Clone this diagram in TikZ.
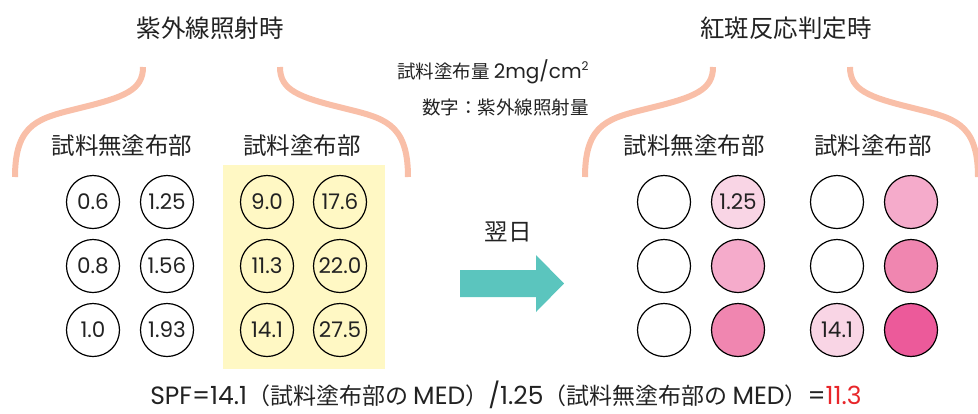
\documentclass[tikz,border=0pt]{standalone}
\usepackage{fontspec}
\setmainfont{Noto Sans CJK JP}
\newfontfamily\lat{Poppins}
\definecolor{bracec}{HTML}{F9BFA8}
\definecolor{yel}{HTML}{FFF8C4}
\definecolor{pk1}{HTML}{F9D5E5}
\definecolor{pk2}{HTML}{F5ABCB}
\definecolor{pk3}{HTML}{F086B0}
\definecolor{pk4}{HTML}{EC5A9A}
\definecolor{tealc}{HTML}{5BC5BE}
\definecolor{txt}{HTML}{222222}
\definecolor{redv}{HTML}{E8262A}
\newcommand{\fl}[1]{{\lat\fontsize{25}{25}\selectfont #1}}
\tikzset{
  dot/.style={circle,draw=black,line width=1.2pt,minimum size=53pt,inner sep=0pt,font=\lat\fontsize{21.5}{21.5}\selectfont,text=txt},
  title/.style={font=\fontsize{24.5}{24.5}\selectfont,text=txt,inner sep=0pt},
  grp/.style={font=\fontsize{23.5}{23.5}\selectfont,text=txt,inner sep=0pt},
  note/.style={font=\fontsize{18.5}{18.5}\selectfont,text=txt,inner sep=0pt},
  brace/.style={draw=bracec,line width=6pt},
}
\begin{document}
\begin{tikzpicture}[x=1pt,y=-1pt]
\useasboundingbox (0,0) rectangle (978,413);
% braces
\foreach \dx in {0,570}{
  \draw[brace] (15+\dx,177) .. controls (15+\dx,122) and (40+\dx,118) .. (80+\dx,108)
     .. controls (125+\dx,97) and (143+\dx,90) .. (143+\dx,67);
  \draw[brace] (408+\dx,177) .. controls (408+\dx,122) and (383+\dx,118) .. (343+\dx,108)
     .. controls (298+\dx,97) and (280+\dx,90) .. (280+\dx,67);
}
\node[title] (t1) at (210,28) {紫外線照射時};
\node[title] (t2) at (786,28) {紅斑反応判定時};
\node[note,anchor=west] (n1) at (397,72) {試料塗布量 {\lat\fontsize{20}{20}\selectfont 2mg/cm\raisebox{0.42em}{\fontsize{12}{12}\selectfont 2}}};
\node[note,anchor=east] (n2) at (589,107) {数字：紫外線照射量};
\node[grp] (g1) at (122,146) {試料無塗布部};
\node[grp] (g2) at (302,146) {試料塗布部};
\node[grp] (g3) at (694,146) {試料無塗布部};
\node[grp] (g4) at (873,146) {試料塗布部};
\fill[yel] (223,165) rectangle (385,369);
% left circles
\node[dot] (a11) at (93,202) {0.6};
\node[dot] (a12) at (167,202) {1.25};
\node[dot] (a21) at (93,266) {0.8};
\node[dot] (a22) at (167,266) {1.56};
\node[dot] (a31) at (93,330) {1.0};
\node[dot] (a32) at (167,330) {1.93};
\node[dot] (b11) at (267,202) {9.0};
\node[dot] (b12) at (340,202) {17.6};
\node[dot] (b21) at (267,266) {11.3};
\node[dot] (b22) at (340,266) {22.0};
\node[dot] (b31) at (267,330) {14.1};
\node[dot] (b32) at (340,330) {27.5};
% right circles
\node[dot,fill=white] (c11) at (664,202) {};
\node[dot,fill=pk1] (c12) at (738,202) {1.25};
\node[dot,fill=white] (c21) at (664,266) {};
\node[dot,fill=pk2] (c22) at (738,266) {};
\node[dot,fill=white] (c31) at (664,330) {};
\node[dot,fill=pk3] (c32) at (738,330) {};
\node[dot,fill=white] (d11) at (837,202) {};
\node[dot,fill=pk2] (d12) at (911,202) {};
\node[dot,fill=white] (d21) at (837,266) {};
\node[dot,fill=pk3] (d22) at (911,266) {};
\node[dot,fill=pk1] (d31) at (837,330) {14.1};
\node[dot,fill=pk4] (d32) at (911,330) {};
% arrow
\fill[tealc] (460,270) -- (536,270) -- (536,255) -- (564,283.5) -- (536,312) -- (536,297) -- (460,297) -- cycle;
\node[grp] (nx) at (508,232) {翌日};
\node[font=\fontsize{23}{23}\selectfont,text=txt,inner sep=0pt,anchor=base] (f) at (506,404)
  {\fl{SPF=14.1}（試料塗布部の \fl{MED}）\fl{/1.25}（試料無塗布部の \fl{MED}）\fl{=\textcolor{redv}{11.3}}};
\end{tikzpicture}
\end{document}
